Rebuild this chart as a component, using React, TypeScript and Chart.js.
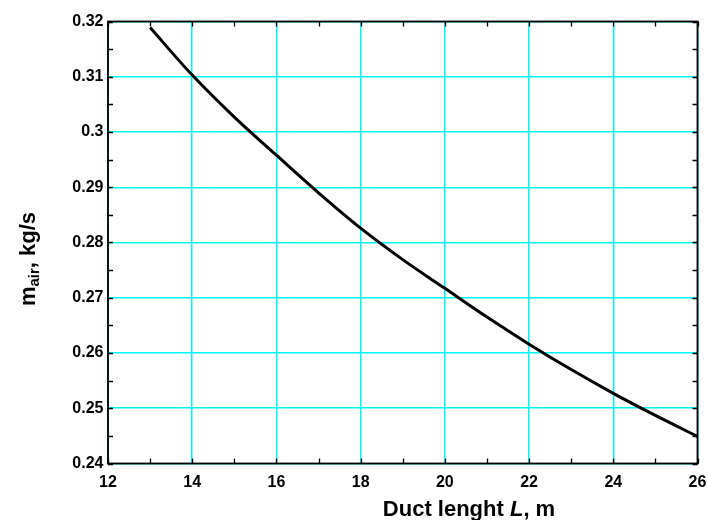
import React, { useEffect, useRef } from "react";
import { Chart, registerables } from "chart.js";

Chart.register(...registerables);

const lengths = [13, 14, 15, 16, 17, 18, 19, 20, 21, 22, 23, 24, 25, 26];
const massFlow = [0.3189, 0.3103, 0.3027, 0.2958, 0.289, 0.2826, 0.2769, 0.2717, 0.2665, 0.2616, 0.257, 0.2527, 0.2487, 0.2449];
const xTicks = [12, 14, 16, 18, 20, 22, 24, 26];
const yTicks = [0.24, 0.25, 0.26, 0.27, 0.28, 0.29, 0.3, 0.31, 0.32];
const xMinor = [13, 15, 17, 19, 21, 23, 25];
const yMinor = [0.245, 0.255, 0.265, 0.275, 0.285, 0.295, 0.305, 0.315];
const yTitleMain = "m";
const yTitleSub = "air";
const yTitleRest = ", kg/s";
const xTitleA = "Duct lenght ";
const xTitleB = "L";
const xTitleC = ", m";

const FONT = "Arial, 'Liberation Sans', Helvetica, sans-serif";

const framePlugin = {
  id: "frame",
  afterDraw(chart: any) {
    const { ctx, chartArea: a, scales } = chart;
    const xs = scales.x;
    const ys = scales.y;
    ctx.save();
    ctx.strokeStyle = "#000";
    ctx.lineWidth = 1.3;
    const tl = 5;
    ctx.beginPath();
    [...xMinor, ...xTicks].forEach((v) => {
      const px = Math.round(xs.getPixelForValue(v)) + 0.5;
      ctx.moveTo(px, a.bottom);
      ctx.lineTo(px, a.bottom - tl);
      ctx.moveTo(px, a.top);
      ctx.lineTo(px, a.top + tl);
    });
    [...yMinor, ...yTicks].forEach((v) => {
      const py = Math.round(ys.getPixelForValue(v)) + 0.5;
      ctx.moveTo(a.left, py);
      ctx.lineTo(a.left + tl, py);
      ctx.moveTo(a.right, py);
      ctx.lineTo(a.right - tl, py);
    });
    ctx.stroke();
    ctx.lineWidth = 1.8;
    ctx.strokeRect(a.left, a.top, a.right - a.left, a.bottom - a.top);

    ctx.fillStyle = "#000";
    ctx.textBaseline = "alphabetic";
    ctx.textAlign = "left";
    const fb = "bold 22px " + FONT;
    const fbi = "italic bold 22px " + FONT;
    ctx.font = fb;
    const wA = ctx.measureText(xTitleA).width;
    const wC = ctx.measureText(xTitleC).width;
    ctx.font = fbi;
    const wB = ctx.measureText(xTitleB).width;
    const total = wA + wB + wC;
    const x0 = 469 - total / 2;
    const yb = 516;
    ctx.font = fb;
    ctx.fillText(xTitleA, x0, yb);
    ctx.font = fbi;
    ctx.fillText(xTitleB, x0 + wA, yb);
    ctx.font = fb;
    ctx.fillText(xTitleC, x0 + wA + wB, yb);

    ctx.translate(35, 259);
    ctx.rotate(-Math.PI / 2);
    const fs = "bold 15px " + FONT;
    ctx.font = fb;
    const wm = ctx.measureText(yTitleMain).width;
    const wr = ctx.measureText(yTitleRest).width;
    ctx.font = fs;
    const ws = ctx.measureText(yTitleSub).width;
    const tot2 = wm + ws + wr;
    const s = -tot2 / 2;
    ctx.font = fb;
    ctx.fillText(yTitleMain, s, 0);
    ctx.font = fs;
    ctx.fillText(yTitleSub, s + wm, 4);
    ctx.font = fb;
    ctx.fillText(yTitleRest, s + wm + ws, 0);
    ctx.restore();
  },
};

export default function App() {
  const ref = useRef<HTMLCanvasElement | null>(null);
  useEffect(() => {
    document.body.style.margin = "0";
    const canvas = ref.current!;
    const chart = new Chart(canvas, {
      type: "line",
      data: {
        datasets: [
          {
            data: lengths.map((x, i) => ({ x, y: massFlow[i] })),
            borderColor: "#000",
            borderWidth: 3,
            pointRadius: 0,
            cubicInterpolationMode: "monotone",
            fill: false,
          },
        ],
      },
      options: {
        animation: false,
        responsive: false,
        maintainAspectRatio: false,
        layout: { padding: { left: 0, top: 21.5, right: 11.5, bottom: 0 } },
        plugins: { legend: { display: false }, tooltip: { enabled: false } },
        scales: {
          x: {
            type: "linear",
            min: 12,
            max: 26,
            afterBuildTicks: (sc: any) => {
              sc.ticks = xTicks.map((v) => ({ value: v }));
            },
            afterFit: (sc: any) => {
              sc.height = 56.5;
              sc.paddingLeft = 0;
              sc.paddingRight = 0;
            },
            grid: { color: "#00F5F5", lineWidth: 1.5, drawTicks: false },
            border: { display: false },
            ticks: {
              padding: 9,
              color: "#000",
              font: { family: FONT, size: 16, weight: "bold" },
              maxRotation: 0,
              autoSkip: false,
              callback: (v: any) => String(v),
            },
          },
          y: {
            type: "linear",
            min: 0.24,
            max: 0.32,
            afterBuildTicks: (sc: any) => {
              sc.ticks = yTicks.map((v) => ({ value: v }));
            },
            afterFit: (sc: any) => {
              sc.width = 108;
              sc.paddingTop = 0;
              sc.paddingBottom = 0;
            },
            grid: { color: "#00F5F5", lineWidth: 1.5, drawTicks: false },
            border: { display: false },
            ticks: {
              padding: 4.5,
              color: "#000",
              autoSkip: false,
              font: { family: FONT, size: 16, weight: "bold" },
              callback: (v: any) => String(Math.round(v * 100) / 100),
            },
          },
        },
      },
      plugins: [framePlugin],
    } as any);
    return () => chart.destroy();
  }, []);
  return (
    <div style={{ position: "absolute", left: 0, top: 0, width: 709, height: 520 }}>
      <canvas ref={ref} width={709} height={520} style={{ width: 709, height: 520, display: "block" }} />
    </div>
  );
}
